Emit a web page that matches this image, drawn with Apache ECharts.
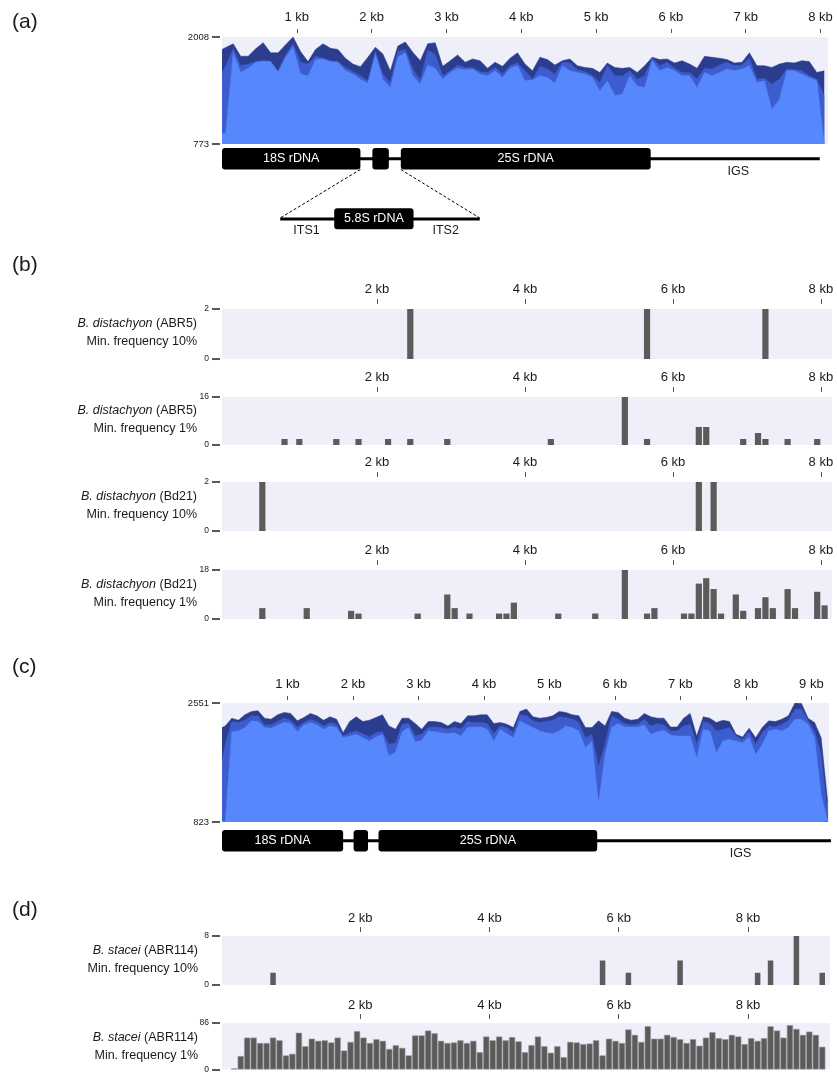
<!DOCTYPE html>
<html><head><meta charset="utf-8">
<script src="https://cdn.jsdelivr.net/npm/echarts@6/dist/echarts.min.js"></script>
<style>html,body{margin:0;padding:0;background:#fff}#c{width:837px;height:1074px}</style>
</head><body><div id="c"></div>
<script>
// ================= DATA =================
// tick labels (kb)
const aKbTicks = [1, 2, 3, 4, 5, 6, 7, 8];
const bKbTicks = [2, 4, 6, 8];
const cKbTicks = [1, 2, 3, 4, 5, 6, 7, 8, 9];
const dKbTicks = [2, 4, 6, 8];

// 100-bp window centres (kb)
function windows(first, n) { return Array.from({length: n}, (_, i) => +(first + 0.1 * i).toFixed(2)); }

// (a) coverage, B. distachyon rDNA unit (max / mid / min)
const aCovX = [0, 0.05].concat(windows(0.15, 80));
const aCovMax = [1864, 1887, 1930, 1786, 1786, 1872, 1942, 1825, 1825, 1918, 2008,
  1840, 1724, 1864, 1930, 1879, 1864, 1763, 1696, 1665, 1774,
  1891, 1813, 1618, 1903, 1950, 1833, 1735, 1930, 1942, 1669,
  1735, 1801, 1716, 1755, 1735, 1646, 1716, 1669, 1763, 1825,
  1696, 1618, 1774, 1747, 1685, 1735, 1755, 1677, 1657, 1646,
  1599, 1708, 1657, 1646, 1657, 1599, 1677, 1774, 1747, 1755,
  1708, 1735, 1696, 1646, 1786, 1774, 1763, 1747, 1708, 1716,
  1825, 1677, 1677, 1657, 1696, 1716, 1708, 1735, 1724, 1599,
  1618];
const aCovMid = [1599, 1677, 1872, 1677, 1696, 1724, 1735, 1724, 1618, 1801, 1930,
  1716, 1696, 1786, 1763, 1735, 1724, 1657, 1607, 1560, 1502,
  1840, 1580, 1482, 1840, 1864, 1638, 1513, 1852, 1809, 1560,
  1618, 1685, 1657, 1657, 1607, 1599, 1657, 1580, 1677, 1708,
  1618, 1521, 1669, 1638, 1580, 1716, 1708, 1630, 1607, 1568,
  1482, 1677, 1560, 1560, 1618, 1521, 1560, 1763, 1677, 1716,
  1646, 1599, 1599, 1521, 1646, 1638, 1685, 1716, 1677, 1685,
  1763, 1521, 1529, 1463, 1521, 1638, 1630, 1618, 1560, 1521,
  1326];
const aCovMin = [898, 898, 1825, 1599, 1646, 1716, 1730, 1724, 1599, 1774, 1891,
  1580, 1560, 1747, 1755, 1724, 1716, 1618, 1580, 1521, 1474,
  1813, 1521, 1424, 1774, 1825, 1560, 1463, 1685, 1646, 1521,
  1599, 1646, 1630, 1638, 1580, 1560, 1618, 1541, 1646, 1677,
  1502, 1513, 1560, 1541, 1474, 1677, 1618, 1599, 1580, 1541,
  1385, 1502, 1334, 1346, 1560, 1443, 1424, 1735, 1618, 1657,
  1618, 1560, 1560, 1424, 1599, 1560, 1599, 1638, 1618, 1638,
  1677, 1482, 1502, 1170, 1287, 1618, 1618, 1580, 1541, 1502,
  773];

// (b) SNP counts per 100-bp window
const b1X = [2.45, 5.65, 7.25];
const b1Y = [2, 2, 2];
const b2X = [0.75, 0.95, 1.45, 1.75, 2.15, 2.45, 2.95, 4.35, 5.35, 5.65, 6.35, 6.45, 6.95, 7.15, 7.25, 7.55, 7.95];
const b2Y = [2, 2, 2, 2, 2, 2, 2, 2, 16, 2, 6, 6, 2, 4, 2, 2, 2];
const b3X = [0.45, 6.35, 6.55];
const b3Y = [2, 2, 2];
const b4X = [0.45, 1.05, 1.65, 1.75, 2.55, 2.95, 3.05, 3.25, 3.65, 3.75, 3.85, 4.45, 4.95, 5.35, 5.65, 5.75,
  6.15, 6.25, 6.35, 6.45, 6.55, 6.65, 6.85, 6.95, 7.15, 7.25, 7.35, 7.55, 7.65, 7.95, 8.05];
const b4Y = [4, 4, 3, 2, 2, 9, 4, 2, 2, 2, 6, 2, 2, 18, 2, 4, 2, 2, 13, 15, 11, 2, 9, 3, 4, 8, 4, 11, 4, 10, 5];

// (c) coverage, B. stacei rDNA unit
const cCovX = [0, 0.05].concat(windows(0.15, 92));
const cCovMax = [2194, 2218,
  2331, 2301, 2380, 2429, 2438, 2331, 2316, 2380, 2414,
  2399, 2292, 2341, 2399, 2365, 2301, 2350, 2316, 2120, 2282,
  2350, 2282, 2301, 2341, 2380, 2218, 2169, 2331, 2331, 2252,
  2169, 2282, 2282, 2267, 2218, 2282, 2252, 2365, 2365, 2380,
  2380, 2252, 2267, 2243, 2194, 2429, 2463, 2350, 2331, 2341,
  2365, 2429, 2414, 2380, 2365, 2194, 2194, 2292, 2218, 2429,
  2414, 2331, 2301, 2316, 2399, 2350, 2331, 2331, 2203, 2203,
  2331, 2399, 2071, 2350, 2331, 2267, 2301, 2282, 2096, 2057,
  2184, 2047, 2194, 2292, 2282, 2316, 2365, 2551, 2545, 2331,
  2267, 2047, 1117];
const cCovMid = [1729, 1949,
  2282, 2267, 2301, 2365, 2365, 2233, 2233, 2282, 2331,
  2301, 2203, 2267, 2316, 2282, 2218, 2267, 2243, 2071, 2120,
  2145, 2106, 2057, 2120, 2135, 1949, 1973, 2243, 2252, 2071,
  2096, 2194, 2203, 2194, 2169, 2203, 2169, 2282, 2267, 2267,
  2252, 2106, 2218, 2194, 2120, 2380, 2365, 2292, 2267, 2282,
  2301, 2350, 2341, 2316, 2267, 2047, 2096, 1631, 1949, 2365,
  2316, 2252, 2233, 2243, 2316, 2218, 2252, 2233, 2145, 2145,
  2218, 2243, 1949, 2282, 2252, 2145, 2169, 2194, 2071, 2022,
  2135, 1949, 2120, 2218, 2203, 2243, 2292, 2463, 2463, 2292,
  2145, 1802, 921];
const cCovMin = [833, 833,
  2135, 2145, 2194, 2292, 2282, 2194, 2184, 2233, 2267,
  2252, 2135, 2233, 2267, 2233, 2169, 2218, 2194, 2047, 2071,
  2096, 2047, 1998, 2057, 2096, 1778, 1841, 2135, 2194, 1988,
  2008, 2145, 2135, 2120, 2106, 2120, 2071, 2194, 2203, 2203,
  2169, 1998, 2169, 2106, 2047, 2292, 2243, 2194, 2145, 2120,
  2106, 2145, 2218, 2194, 2145, 1900, 1998, 1092, 1802, 2194,
  2252, 2203, 2203, 2203, 2233, 2096, 2135, 2154, 2086, 2071,
  2071, 2071, 1753, 2169, 2145, 1827, 1998, 2022, 1998, 1973,
  2057, 1802, 1949, 2145, 2169, 2145, 2194, 2316, 2316, 2243,
  2047, 1215, 833];

// (d) SNP counts, B. stacei
const d1X = [0.65, 5.75, 6.15, 6.95, 8.15, 8.35, 8.75, 9.15];
const d1Y = [2, 4, 2, 4, 2, 4, 8, 2];
const d2Y = [2, 25, 59, 59, 49, 49, 59, 54, 26, 29, 68, 43, 57, 53, 54, 50, 59, 35, 51, 71,
  59, 49, 56, 53, 38, 45, 40, 26, 63, 63, 72, 67, 53, 49, 50, 54, 49, 53, 32, 61,
  54, 61, 54, 60, 52, 32, 45, 61, 43, 31, 43, 23, 51, 50, 47, 48, 54, 26, 57, 53,
  49, 74, 64, 51, 80, 57, 57, 64, 60, 56, 49, 56, 44, 59, 69, 58, 56, 64, 61, 47,
  58, 53, 58, 80, 72, 59, 82, 75, 64, 70, 64, 42];
const d2X = windows(0.05, d2Y.length);

// rDNA unit features (kb)
const geneNames = ['18S rDNA', '', '25S rDNA'];
const geneStart = [0, 2.01, 2.39];
const geneEnd = [1.85, 2.23, 5.73];
const aUnitEnd = 7.99, cUnitEnd = 9.3;
const aIgsAt = 6.9, cIgsAt = 7.92;
const itsSpan = [0.778, 3.445];
const s58Span = [1.50, 2.56];
const itsNames = ['ITS1', 'ITS2'];
const itsAt = [1.13, 2.99];
const insetLinks = [[1.85, 0.778], [2.39, 3.445]];

// row labels
const bRows = [
  ['B. distachyon', ' (ABR5)', 'Min. frequency 10%'],
  ['B. distachyon', ' (ABR5)', 'Min. frequency 1%'],
  ['B. distachyon', ' (Bd21)', 'Min. frequency 10%'],
  ['B. distachyon', ' (Bd21)', 'Min. frequency 1%']
];
const dRows = [
  ['B. stacei', ' (ABR114)', 'Min. frequency 10%'],
  ['B. stacei', ' (ABR114)', 'Min. frequency 1%']
];

// ================= CHART =================
const FONT = "'Liberation Sans', Arial, sans-serif";
const BG = '#EFEFFA';
const C_MAX = '#2B3D8E', C_MID = '#3D5CCD', C_MIN = '#5787FD', BAR = '#5b5b5b';

const grids = [], xAxes = [], yAxes = [], series = [], graphics = [];
function addGrid(g, x, y, bg) {
  grids.push(Object.assign({show: !!bg, backgroundColor: BG, borderWidth: 0, containLabel: false}, g));
  const gi = grids.length - 1;
  xAxes.push(Object.assign({gridIndex: gi}, x));
  yAxes.push(Object.assign({gridIndex: gi}, y));
  return gi;
}
function topX(min, max, ticks, offset, tickLen, margin) {
  return {type: 'value', position: 'top', min, max, offset,
    axisLine: {show: false, onZero: false},
    axisTick: {show: true, length: tickLen, customValues: ticks, lineStyle: {color: '#555', width: 1}},
    axisLabel: {show: true, customValues: ticks, formatter: v => v + ' kb', margin, fontSize: 13, fontFamily: FONT, color: '#1a1a1a'},
    splitLine: {show: false}};
}
function leftY(min, max, fs) {
  return {type: 'value', min, max, offset: 2,
    axisLine: {show: false, onZero: false},
    axisTick: {show: true, length: 8, customValues: [min, max], lineStyle: {color: '#222', width: 1.5}},
    axisLabel: {show: true, customValues: [min, max], formatter: v => String(v), margin: 11, fontSize: fs, fontFamily: FONT, color: '#1a1a1a'},
    splitLine: {show: false}};
}
const hidX = (min, max) => ({type: 'value', min, max, show: false});
const hidY = () => ({type: 'value', min: 0, max: 1, show: false});

function cov(gi, xs, arr, color, z) {
  return {type: 'line', xAxisIndex: gi, yAxisIndex: gi, data: xs.map((x, i) => [x, arr[i]]),
    symbol: 'none', showSymbol: false, lineStyle: {width: 0.5, color}, areaStyle: {color, opacity: 1},
    z, silent: true, animation: false};
}
function bars(gi, xs, ys, w, border) {
  return {type: 'bar', xAxisIndex: gi, yAxisIndex: gi, data: xs.map((x, i) => [x, ys[i]]), barWidth: w,
    itemStyle: {color: BAR, borderColor: border ? '#9a9a9a' : BAR, borderWidth: border ? 0.6 : 0},
    silent: true, animation: false};
}
function rowLabel(x, y, row) {
  const base = {fontSize: 12.5, fontFamily: FONT, fill: '#1a1a1a', lineHeight: 18};
  graphics.push({type: 'text', x, y, silent: true,
    style: {text: '{i|' + row[0] + '}{n|' + row[1] + '}\n{n|' + row[2] + '}', align: 'right', verticalAlign: 'middle',
      rich: {i: Object.assign({fontStyle: 'italic'}, base), n: base}}});
}
function geneSeries(gi, unitEnd, igsAt, withInset) {
  const span = (v0, v1, api) => [api.coord([v0, 0])[0], api.coord([v1, 0])[0]];
  series.push({type: 'custom', xAxisIndex: gi, yAxisIndex: gi, silent: true, clip: false, animation: false,
    data: [[0, unitEnd]],
    renderItem: (p, api) => { const [a, b] = span(api.value(0), api.value(1), api);
      return {type: 'rect', shape: {x: a, y: p.coordSys.y + 9.2, width: b - a, height: 3}, style: {fill: '#000'}}; }});
  series.push({type: 'custom', xAxisIndex: gi, yAxisIndex: gi, silent: true, clip: false, animation: false,
    data: geneStart.map((s, i) => [s, geneEnd[i]]),
    renderItem: (p, api) => { const [a, b] = span(api.value(0), api.value(1), api); const y = p.coordSys.y;
      return {type: 'group', children: [
        {type: 'rect', shape: {x: a, y: y, width: b - a, height: 21.5, r: 3}, style: {fill: '#000'}},
        {type: 'text', x: (a + b) / 2, y: y + 11, style: {text: geneNames[p.dataIndex], align: 'center', verticalAlign: 'middle', fill: '#fff', font: '12.5px ' + FONT}}]}; }});
  series.push({type: 'custom', xAxisIndex: gi, yAxisIndex: gi, silent: true, clip: false, animation: false,
    data: [[igsAt]],
    renderItem: (p, api) => ({type: 'text', x: api.coord([api.value(0), 0])[0], y: p.coordSys.y + 24,
      style: {text: 'IGS', align: 'center', verticalAlign: 'middle', fill: '#1a1a1a', font: '12.5px ' + FONT}})});
  if (!withInset) return;
  series.push({type: 'custom', xAxisIndex: gi, yAxisIndex: gi, silent: true, clip: false, animation: false,
    data: insetLinks,
    renderItem: (p, api) => { const [a, b] = span(api.value(0), api.value(1), api); const y = p.coordSys.y;
      return {type: 'line', shape: {x1: a, y1: y + 21.5, x2: b, y2: y + 70}, style: {stroke: '#000', lineWidth: 1, lineDash: [3, 2]}}; }});
  series.push({type: 'custom', xAxisIndex: gi, yAxisIndex: gi, silent: true, clip: false, animation: false,
    data: [itsSpan],
    renderItem: (p, api) => { const [a, b] = span(api.value(0), api.value(1), api);
      return {type: 'rect', shape: {x: a, y: p.coordSys.y + 69.5, width: b - a, height: 3}, style: {fill: '#000'}}; }});
  series.push({type: 'custom', xAxisIndex: gi, yAxisIndex: gi, silent: true, clip: false, animation: false,
    data: [s58Span],
    renderItem: (p, api) => { const [a, b] = span(api.value(0), api.value(1), api); const y = p.coordSys.y + 60.3;
      return {type: 'group', children: [
        {type: 'rect', shape: {x: a, y: y, width: b - a, height: 21, r: 3}, style: {fill: '#000'}},
        {type: 'text', x: (a + b) / 2, y: y + 10.5, style: {text: '5.8S rDNA', align: 'center', verticalAlign: 'middle', fill: '#fff', font: '12.5px ' + FONT}}]}; }});
  series.push({type: 'custom', xAxisIndex: gi, yAxisIndex: gi, silent: true, clip: false, animation: false,
    data: itsAt.map(v => [v]),
    renderItem: (p, api) => ({type: 'text', x: api.coord([api.value(0), 0])[0], y: p.coordSys.y + 83,
      style: {text: itsNames[p.dataIndex], align: 'center', verticalAlign: 'middle', fill: '#1a1a1a', font: '12.5px ' + FONT}})});
}

// ---- panel (a)
let g = addGrid({left: 222, top: 37, width: 606, height: 107}, topX(0, 8.1, aKbTicks, 4, 4, 9), leftY(773, 2008, 9.5), true);
series.push(cov(g, aCovX, aCovMax, C_MAX, 2), cov(g, aCovX, aCovMid, C_MID, 3), cov(g, aCovX, aCovMin, C_MIN, 4));
g = addGrid({left: 222, top: 148, width: 606, height: 90}, hidX(0, 8.1), hidY(), false);
geneSeries(g, aUnitEnd, aIgsAt, true);

// ---- panel (b)
const bTops = [309, 397, 482, 570], bH = [50, 48, 49, 49];
const bData = [[b1X, b1Y, 2], [b2X, b2Y, 16], [b3X, b3Y, 2], [b4X, b4Y, 18]];
bData.forEach((d, i) => {
  const gi = addGrid({left: 222, top: bTops[i], width: 610, height: bH[i]}, topX(-0.095, 8.15, bKbTicks, 5, 5, 8), leftY(0, d[2], 8.5), true);
  series.push(bars(gi, d[0], d[1], 6.2, false));
  rowLabel(197, bTops[i] + bH[i] / 2 - 1, bRows[i]);
});

// ---- panel (c)
g = addGrid({left: 222, top: 703, width: 607, height: 119}, topX(0, 9.27, cKbTicks, 3, 4, 9), leftY(823, 2551, 9.5), true);
series.push(cov(g, cCovX, cCovMax, C_MAX, 2), cov(g, cCovX, cCovMid, C_MID, 3), cov(g, cCovX, cCovMin, C_MIN, 4));
g = addGrid({left: 222, top: 830, width: 607, height: 30}, hidX(0, 9.27), hidY(), false);
geneSeries(g, cUnitEnd, cIgsAt, false);

// ---- panel (d)
const dTops = [936, 1023], dH = [49, 49];
const dData = [[d1X, d1Y, 8, 5.5, false], [d2X, d2Y, 86, 6.2, true]];
dData.forEach((d, i) => {
  const gi = addGrid({left: 222, top: dTops[i], width: 608, height: dH[i]}, topX(-0.14, 9.27, dKbTicks, 4, 5, 7), leftY(0, d[2], 8.5), true);
  series.push(bars(gi, d[0], d[1], d[3], d[4]));
  rowLabel(198, dTops[i] + dH[i] / 2 - 1, dRows[i]);
});

// panel letters
[['(a)', 22], ['(b)', 265], ['(c)', 667], ['(d)', 910]].forEach(([t, y]) => {
  graphics.push({type: 'text', x: 12, y, silent: true, style: {text: t, font: '21px ' + FONT, fill: '#1a1a1a', verticalAlign: 'middle'}});
});

const chart = echarts.init(document.getElementById('c'), null, {renderer: 'canvas'});
chart.setOption({animation: false, backgroundColor: '#fff', grid: grids, xAxis: xAxes, yAxis: yAxes, series, graphic: graphics});
</script></body></html>
